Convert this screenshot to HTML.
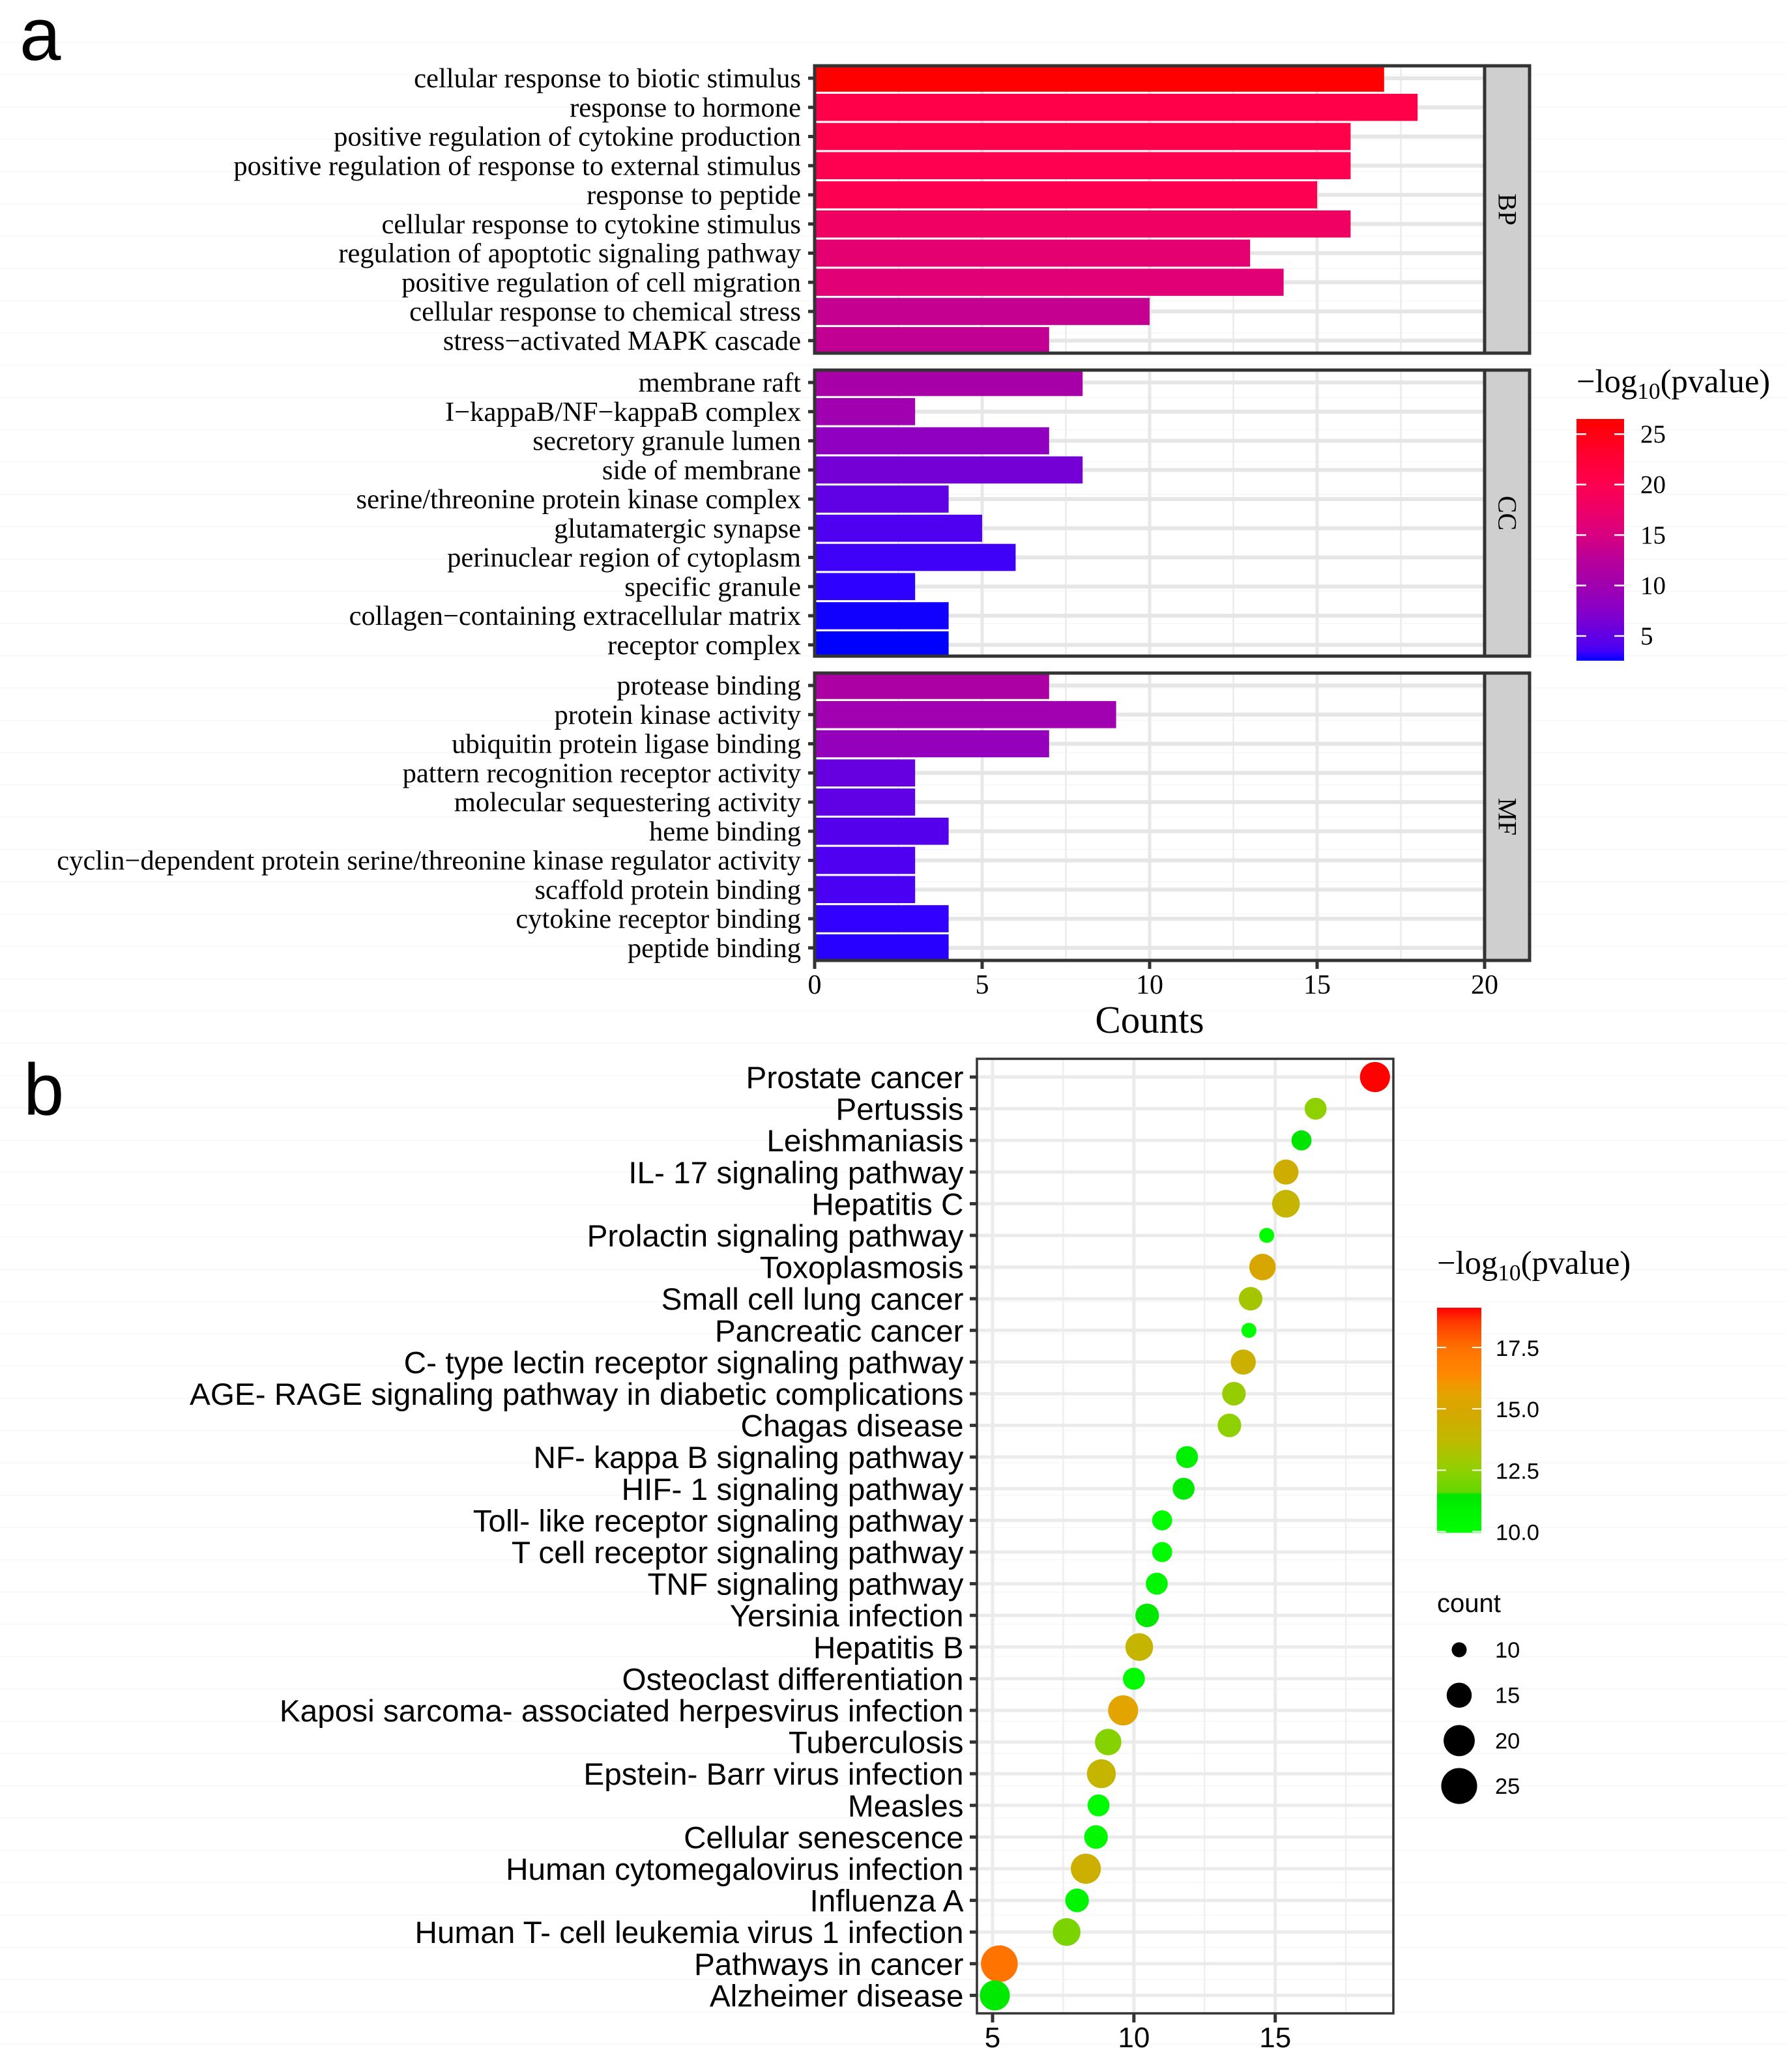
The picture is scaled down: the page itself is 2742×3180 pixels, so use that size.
<!DOCTYPE html>
<html lang="en">
<head>
<meta charset="utf-8">
<title>GO enrichment and KEGG pathway charts</title>
<style>
html,body{margin:0;padding:0;background:#fff;width:2742px;height:3180px;overflow:hidden}
svg{display:block}
.serif{font-family:"Liberation Serif",serif;fill:#000}
.sans{font-family:"Liberation Sans",sans-serif;fill:#000}
</style>
</head>
<body>
<svg id="chart" xmlns="http://www.w3.org/2000/svg" width="2742" height="3180" viewBox="0 0 2742 3180">
  <defs id="defs"></defs>
  <rect x="0" y="0" width="2742" height="3180" fill="#ffffff"/>
  <g id="faint"></g>
  <g id="panelA"></g>
  <g id="panelB"></g>
  <text class="sans" x="30" y="92" font-size="114">a</text>
  <text class="sans" x="36" y="1711" font-size="112">b</text>
</svg>
<script>
// ---------- Panel a data ----------
const facetNames = ["BP", "CC", "MF"];
const bpTerms = ["cellular response to biotic stimulus","response to hormone","positive regulation of cytokine production","positive regulation of response to external stimulus","response to peptide","cellular response to cytokine stimulus","regulation of apoptotic signaling pathway","positive regulation of cell migration","cellular response to chemical stress","stress\u2212activated MAPK cascade"];
const bpCounts = [17,18,16,16,15,16,13,14,10,7];
const bpLogP = [26.5,20.7,20.5,20,19.8,17.9,16.5,16,13.5,13.2];
const ccTerms = ["membrane raft","I\u2212kappaB/NF\u2212kappaB complex","secretory granule lumen","side of membrane","serine/threonine protein kinase complex","glutamatergic synapse","perinuclear region of cytoplasm","specific granule","collagen\u2212containing extracellular matrix","receptor complex"];
const ccCounts = [8,3,7,8,4,5,6,3,4,4];
const ccLogP = [10.8,10,8.3,6.3,5,3.8,3.5,3.2,2.8,2.55];
const mfTerms = ["protease binding","protein kinase activity","ubiquitin protein ligase binding","pattern recognition receptor activity","molecular sequestering activity","heme binding","cyclin\u2212dependent protein serine/threonine kinase regulator activity","scaffold protein binding","cytokine receptor binding","peptide binding"];
const mfCounts = [7,9,7,3,3,4,3,3,4,4];
const mfLogP = [11.2,10,8.8,5.4,5,4.2,3.85,3.7,3.25,3.1];
const countTicks = [0,5,10,15,20];
const countMinorTicks = [2.5,7.5,12.5,17.5];
const fillLegendTicks = [5,10,15,20,25];
const fillDomain = [2.55,26.5];
const fillPaletteValues = [2.55,3.2,3.8,5,7.5,10,12.5,15,17.5,20,23,26.5];
const fillPaletteColors = ["#0000ff","#2e00ff","#4f00f0","#6000e5","#8800c8","#a000b0","#b8009a","#d80080","#ee0068","#ff0050","#ff0030","#ff0000"];

// ---------- Panel b data ----------
const pathways = ["Prostate cancer","Pertussis","Leishmaniasis","IL- 17 signaling pathway","Hepatitis C","Prolactin signaling pathway","Toxoplasmosis","Small cell lung cancer","Pancreatic cancer","C- type lectin receptor signaling pathway","AGE- RAGE signaling pathway in diabetic complications","Chagas disease","NF- kappa B signaling pathway","HIF- 1 signaling pathway","Toll- like receptor signaling pathway","T cell receptor signaling pathway","TNF signaling pathway","Yersinia infection","Hepatitis B","Osteoclast differentiation","Kaposi sarcoma- associated herpesvirus infection","Tuberculosis","Epstein- Barr virus infection","Measles","Cellular senescence","Human cytomegalovirus infection","Influenza A","Human T- cell leukemia virus 1 infection","Pathways in cancer","Alzheimer disease"];
const richFactor = [18.53,16.43,15.93,15.38,15.38,14.7,14.55,14.13,14.07,13.87,13.54,13.38,11.88,11.76,11.0,11.0,10.81,10.47,10.19,10.0,9.62,9.09,8.85,8.75,8.66,8.3,7.99,7.62,5.24,5.08];
const pathwayCounts = [19,13,12,15,17,10,16,14,10,15,14,14,13,13,12,12,13,14,17,13,19,16,18,13,14,19,14,17,26,19];
const pathwayLogP = [19.1,12.5,11.5,14.5,14,10,15,13,10.1,14.3,12.7,12.5,11,11.3,10.2,10.2,10.7,11.4,14,10.3,15.6,12.3,14,10.2,10.5,14.4,10.7,12.1,17.3,11.3];
const dotTicks = [5,10,15];
const dotMinorTicks = [7.5,12.5,17.5];
const colorLegendTicks = [10,12.5,15,17.5];
const colorDomain = [9.95,19.12];
const dotPaletteValues = [9.95,10.8,11.55,11.56,12.5,13.7,15,15.6,16.4,17.5,18.5,19.12];
const dotPaletteColors = ["#00ff00","#00f400","#00e400","#60d800","#8fd000","#bfb900","#d8a600","#e4a400","#ff8800","#ff7000","#ff3c00","#ff0000"];
const sizeLegendCounts = [10,15,20,25];

// ---------- Helpers ----------
const NS = "http://www.w3.org/2000/svg";
function mk(tag, attrs, parent, text) {
  const e = document.createElementNS(NS, tag);
  for (const k in attrs) e.setAttribute(k, attrs[k]);
  if (text !== undefined) e.textContent = text;
  parent.appendChild(e);
  return e;
}
function paletteColor(values, colors, v) {
  if (v <= values[0]) return colors[0];
  for (let i=1;i<values.length;i++) {
    if (v <= values[i]) {
      const t=(v-values[i-1])/(values[i]-values[i-1]);
      const a=colors[i-1], b=colors[i];
      const ch=o=>Math.round(parseInt(a.substr(o,2),16)*(1-t)+parseInt(b.substr(o,2),16)*t);
      return "rgb("+ch(1)+","+ch(3)+","+ch(5)+")";
    }
  }
  return colors[colors.length-1];
}
const fillColor = v => paletteColor(fillPaletteValues,fillPaletteColors,v);
const dotColor = v => paletteColor(dotPaletteValues,dotPaletteColors,v);

const chart = document.getElementById("chart");
const defs = document.getElementById("defs");
const faint = document.getElementById("faint");
const A = document.getElementById("panelA");
const B = document.getElementById("panelB");

for (let y=65; y<3180; y+=49.55) {
  const l = mk("line",{x1:0,x2:2742,y1:y,y2:y,stroke:"#f7f7f7","stroke-width":1.5},faint);
  
  
}

function legendTitle(parent,x,y,fs) {
  const t = mk("text",{x:x,y:y,"font-size":fs,class:"serif"},parent);
  
  
  mk("tspan",{},t,"\u2212log");
  mk("tspan",{dy:fs*0.2,"font-size":fs*0.7},t,"10");
  mk("tspan",{dy:-fs*0.2},t,"(pvalue)");
}

// ---------- Panel a ----------
const xA = v => 1250 + v*51.4;
const stepA = 44.75;
const facetFrames = [[101,542,120],[568,1007,587],[1033,1474,1052]];
const facetTerms = [bpTerms,ccTerms,mfTerms];
const facetCounts = [bpCounts,ccCounts,mfCounts];
const facetLogP = [bpLogP,ccLogP,mfLogP];

facetNames.forEach((facet,f)=>{
  const top=facetFrames[f][0], bot=facetFrames[f][1], first=facetFrames[f][2];
  const yA = i => first + i*stepA;
  const clip = mk("clipPath",{id:"clip"+facet},defs);
  mk("rect",{x:1250,y:top,width:1028,height:bot-top},clip);
  const g = mk("g",{"clip-path":"url(#clip"+facet+")"},A);
  
  
  countMinorTicks.forEach(v=>{
    const l = mk("line",{x1:xA(v),x2:xA(v),y1:top,y2:bot,stroke:"#ebebeb","stroke-width":2.5},g);
    
    
  });
  countTicks.forEach(v=>{
    const l = mk("line",{x1:xA(v),x2:xA(v),y1:top,y2:bot,stroke:"#e8e8e8","stroke-width":5},g);
    
    
  });
  facetTerms[f].forEach((term,i)=>{
    const l = mk("line",{x1:1250,x2:2278,y1:yA(i),y2:yA(i),stroke:"#e6e6e6","stroke-width":6},g);
    
    
  });
  facetTerms[f].forEach((term,i)=>{
    const h = stepA*0.93;
    const r = mk("rect",{x:xA(0),y:yA(i)-h/2,width:xA(facetCounts[f][i])-xA(0),height:h,fill:fillColor(facetLogP[f][i])},g);
    
    
    const tk = mk("line",{x1:1240,x2:1250,y1:yA(i),y2:yA(i),stroke:"#333333","stroke-width":5},A);
    
    
    const lb = mk("text",{x:1229,y:yA(i)+14,"text-anchor":"end","font-size":42.6,class:"serif"},A,term);
    
    
  });
  const strip = mk("rect",{x:2278,y:top,width:69,height:bot-top,fill:"#cfcfcf",stroke:"#333333","stroke-width":5},A);
  
  
  const frame = mk("rect",{x:1250,y:top,width:1028,height:bot-top,fill:"none",stroke:"#333333","stroke-width":5},A);
  
  
  const cy=(top+bot)/2;
  const st = mk("text",{x:2313,y:cy,"text-anchor":"middle","font-size":40,class:"serif",transform:"rotate(90 2313 "+cy+")","dominant-baseline":"central"},A,facet);
  
  
});

countTicks.forEach(v=>{
  const tk = mk("line",{x1:xA(v),x2:xA(v),y1:1474,y2:1487,stroke:"#333333","stroke-width":5},A);
  
  
  const t = mk("text",{x:xA(v),y:1525,"text-anchor":"middle","font-size":42,class:"serif"},A,String(v));
  
  
});
const axisA = mk("text",{x:1764,y:1585,"text-anchor":"middle","font-size":59,class:"serif"},A,"Counts");



legendTitle(A,2419,602,50.6);
const gradA = mk("linearGradient",{id:"gradA",x1:0,y1:1,x2:0,y2:0},defs);
for (let k=0;k<=80;k++) {
  mk("stop",{offset:k/80,"stop-color":fillColor(fillDomain[0]+(fillDomain[1]-fillDomain[0])*k/80)},gradA);
}
const yFill = v => 1014 - (v-fillDomain[0])*(1014-643)/(fillDomain[1]-fillDomain[0]);
const barA = mk("rect",{x:2419,y:643,width:73,height:371,fill:"url(#gradA)"},A);


fillLegendTicks.forEach(v=>{
  [[2419,2434],[2477,2492]].forEach(p=>{
    const l = mk("line",{x1:p[0],x2:p[1],y1:yFill(v),y2:yFill(v),stroke:"#ffffff","stroke-width":2.5},A);
    
    
  });
  const t = mk("text",{x:2517,y:yFill(v)+13,"font-size":39,class:"serif"},A,String(v));
  
  
});

// ---------- Panel b ----------
const xB = v => 1523 + (v-5)*43.37;
const yB = i => 1653 + i*48.6;
const sizeB = c => 12.3 + 45.4*Math.sqrt((c-9)/18);

dotMinorTicks.forEach(v=>{
  const l = mk("line",{x1:xB(v),x2:xB(v),y1:1625,y2:3090,stroke:"#efefef","stroke-width":2.5},B);
  
  
});
dotTicks.forEach(v=>{
  const l = mk("line",{x1:xB(v),x2:xB(v),y1:1625,y2:3090,stroke:"#ebebeb","stroke-width":5},B);
  
  
});
pathways.forEach((name,i)=>{
  const l = mk("line",{x1:1499,x2:2138,y1:yB(i),y2:yB(i),stroke:"#ebebeb","stroke-width":5},B);
  
  
});
const frameB = mk("rect",{x:1499,y:1625,width:639,height:1465,fill:"none",stroke:"#333333","stroke-width":3.5},B);


pathways.forEach((name,i)=>{
  const tk = mk("line",{x1:1488,x2:1499,y1:yB(i),y2:yB(i),stroke:"#333333","stroke-width":5},B);
  
  
  const lb = mk("text",{x:1478.5,y:yB(i)+17,"text-anchor":"end","font-size":47.7,class:"sans"},B,name);
  
  
  const c = mk("circle",{cx:xB(richFactor[i]),cy:yB(i),r:sizeB(pathwayCounts[i])/2,fill:dotColor(pathwayLogP[i])},B);
  
  
});
dotTicks.forEach(v=>{
  const tk = mk("line",{x1:xB(v),x2:xB(v),y1:3090,y2:3104,stroke:"#333333","stroke-width":5},B);
  
  
  const t = mk("text",{x:xB(v),y:3142,"text-anchor":"middle","font-size":44,class:"sans"},B,String(v));
  
  
});

legendTitle(B,2205,1955,50.6);
const gradB = mk("linearGradient",{id:"gradB",x1:0,y1:1,x2:0,y2:0},defs);
for (let k=0;k<=200;k++) {
  mk("stop",{offset:k/200,"stop-color":dotColor(colorDomain[0]+(colorDomain[1]-colorDomain[0])*k/200)},gradB);
}
const yColor = v => 2352.5 - (v-colorDomain[0])*(2352.5-2007)/(colorDomain[1]-colorDomain[0]);
const barB = mk("rect",{x:2205,y:2007,width:68,height:345.5,fill:"url(#gradB)"},B);


colorLegendTicks.forEach(v=>{
  [[2205,2219],[2259,2273]].forEach(p=>{
    const l = mk("line",{x1:p[0],x2:p[1],y1:yColor(v),y2:yColor(v),stroke:"#ffffff","stroke-width":2},B);
    
    
  });
  const t = mk("text",{x:2295,y:yColor(v)+13,"font-size":34.4,class:"sans"},B,v.toFixed(1));
  
  
});
const countTitle = mk("text",{x:2205,y:2474,"font-size":40,class:"sans"},B,"count");


sizeLegendCounts.forEach((c,i)=>{
  const cy = 2532 + i*69.7;
  const d = mk("circle",{cx:2239,cy:cy,r:sizeB(c)/2,fill:"#000000"},B);
  
  
  const t = mk("text",{x:2294,y:cy+12,"font-size":34.4,class:"sans"},B,String(c));
  
  
});
</script>
</body>
</html>
